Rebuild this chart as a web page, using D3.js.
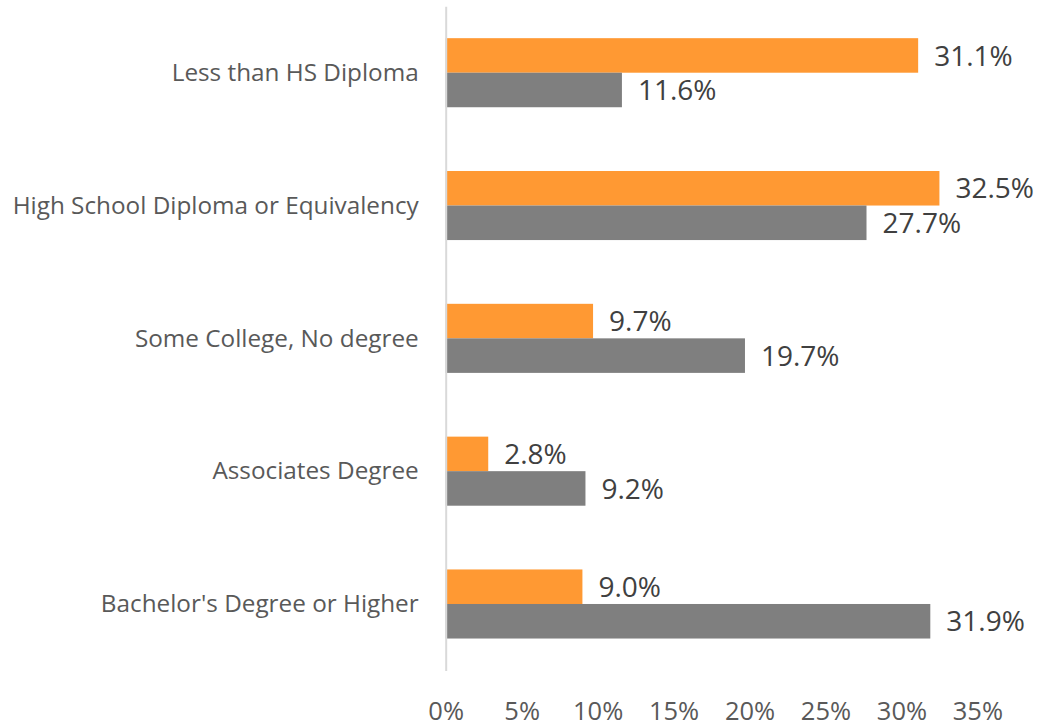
<!DOCTYPE html>
<html>
<head>
<meta charset="utf-8">
<script src="https://cdn.jsdelivr.net/npm/d3@7"></script>
<style>
  body { margin: 0; background: #fff; }
  text { font-family: "Open Sans", sans-serif; }
</style>
</head>
<body>
<script>
// 教育程度 横向分组条形图

let categories = ['Less than HS Diploma', 'High School Diploma or Equivalency', 'Some College, No degree', 'Associates Degree', "Bachelor's Degree or Higher"]
let seriesNames = ['orange', 'gray']
let orangeValues = [31.1, 32.5, 9.7, 2.8, 9.0]
let grayValues = [11.6, 27.7, 19.7, 9.2, 31.9]
let xTicks = [0, 5, 10, 15, 20, 25, 30, 35]

let width = 1038
let height = 727
let margin = { top: 6.3, right: 60.6, bottom: 56.6, left: 445.7 }
let colors = { orange: '#FF9933', gray: '#7F7F7F' }

let svg = d3.select('body')
  .append('svg')
  .attr('width', width)
  .attr('height', height)

// 比例尺
let xScale = d3.scaleLinear().domain([0, 35]).range([margin.left, width - margin.right])
let yScale = d3.scaleBand().domain(categories).range([margin.top, height - margin.bottom])
  .paddingInner(0.48).paddingOuter(0.24)
let subScale = d3.scaleBand().domain(seriesNames).range([0, yScale.bandwidth()])

let rows = categories.map((c, i) => ({ cat: c, orange: orangeValues[i], gray: grayValues[i] }))

// 条形
let groups = svg.append('g').selectAll('g')
  .data(rows)
  .join('g')
  .attr('transform', d => 'translate(0,' + yScale(d.cat) + ')')

groups.selectAll('rect')
  .data(d => seriesNames.map(k => ({ key: k, value: d[k] })))
  .join('rect')
  .attr('x', xScale(0))
  .attr('y', d => subScale(d.key))
  .attr('width', d => xScale(d.value) - xScale(0))
  .attr('height', subScale.bandwidth())
  .attr('fill', d => colors[d.key])

// 数值标签
groups.selectAll('text')
  .data(d => seriesNames.map(k => ({ key: k, value: d[k] })))
  .join('text')
  .attr('x', d => xScale(d.value) + 16)
  .attr('y', d => subScale(d.key) + subScale.bandwidth() / 2)
  .attr('dy', '0.36em')
  .attr('fill', '#404040')
  .style('font-size', '28px')
  .text(d => d.value.toFixed(1) + '%')

// y轴
let yAxis = svg.append('g')
  .attr('transform', 'translate(' + margin.left + ',0)')
  .call(d3.axisLeft(yScale).tickSize(0).tickPadding(27))
yAxis.select('.domain').attr('stroke', '#D9D9D9').attr('stroke-width', 2)
yAxis.selectAll('text')
  .attr('fill', '#595959')
  .style('font-size', '24.3px')
  .attr('dy', '0.34em')

// x轴
let xAxis = svg.append('g')
  .attr('transform', 'translate(0,' + (height - margin.bottom) + ')')
  .call(d3.axisBottom(xScale).tickValues(xTicks).tickSize(0).tickPadding(31.5).tickFormat(d => d + '%'))
xAxis.select('.domain').remove()
xAxis.selectAll('text')
  .attr('fill', '#595959')
  .style('font-size', '25.5px')
</script>
</body>
</html>
